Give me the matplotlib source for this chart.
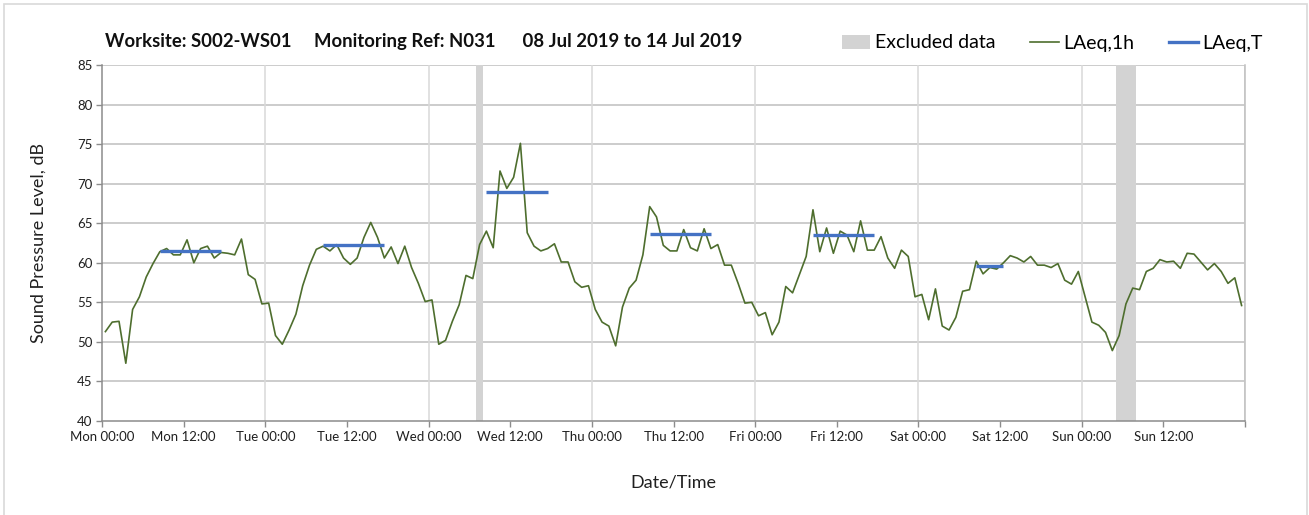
#!/usr/bin/env python3
"""
Hourly noise levels for one week at worksite S002-WS01 (monitoring ref N031).
"""

import matplotlib
matplotlib.use('Agg')
import matplotlib.pyplot as plt
from matplotlib.patches import Rectangle, Patch
from matplotlib.lines import Line2D

# hourly LAeq,1h values, Mon 00:00 -> Sun 23:00 (168 hours)
laeq_1h = [
    # Mon
    51.3, 52.5, 52.6, 47.3, 54.1, 55.7, 58.2, 59.9, 61.4, 61.8, 61.0, 61.0,
    62.9, 60.0, 61.8, 62.1, 60.6, 61.3, 61.2, 61.0, 63.0, 58.5, 57.9, 54.8,
    # Tue
    54.9, 50.8, 49.7, 51.5, 53.5, 57.1, 59.7, 61.7, 62.1, 61.5, 62.3, 60.6,
    59.8, 60.6, 63.2, 65.1, 63.2, 60.6, 62.0, 59.9, 62.1, 59.4, 57.4, 55.1,
    # Wed
    55.3, 49.7, 50.2, 52.6, 54.7, 58.4, 58.0, 62.3, 64.0, 61.9, 71.6, 69.4,
    70.8, 75.1, 63.8, 62.1, 61.5, 61.8, 62.4, 60.1, 60.1, 57.6, 56.9, 57.1,
    # Thu
    54.1, 52.5, 52.0, 49.5, 54.4, 56.8, 57.8, 61.0, 67.1, 65.8, 62.2, 61.5,
    61.5, 64.2, 61.9, 61.5, 64.3, 61.8, 62.3, 59.7, 59.7, 57.4, 54.9, 55.0,
    # Fri
    53.3, 53.7, 50.9, 52.5, 57.0, 56.2, 58.5, 60.8, 66.7, 61.4, 64.4, 61.2,
    64.0, 63.5, 61.4, 65.3, 61.6, 61.6, 63.3, 60.6, 59.3, 61.6, 60.8, 55.7,
    # Sat
    56.0, 52.8, 56.7, 52.0, 51.5, 53.1, 56.4, 56.6, 60.2, 58.6, 59.4, 59.2,
    60.0, 60.9, 60.6, 60.1, 60.8, 59.7, 59.7, 59.4, 59.9, 57.8, 57.3, 58.9,
    # Sun
    55.7, 52.5, 52.1, 51.2, 48.9, 50.8, 54.8, 56.8, 56.6, 58.9, 59.3, 60.4,
    60.1, 60.2, 59.3, 61.2, 61.1, 60.1, 59.1, 59.9, 58.9, 57.4, 58.1, 54.6,
]

# LAeq,T over each daytime assessment period (first hour, last hour, level)
period_start = [8, 32, 56, 80, 104, 128]
period_end = [17, 41, 65, 89, 113, 132]
laeq_t = [61.45, 62.2, 69.0, 63.6, 63.5, 59.6]

# excluded periods (start hour, end hour)
excluded_start = [55, 149]
excluded_end = [56, 152]

tick_labels = ['Mon 00:00', 'Mon 12:00', 'Tue 00:00', 'Tue 12:00',
               'Wed 00:00', 'Wed 12:00', 'Thu 00:00', 'Thu 12:00',
               'Fri 00:00', 'Fri 12:00', 'Sat 00:00', 'Sat 12:00',
               'Sun 00:00', 'Sun 12:00', '']

GREEN = '#4e6e2e'
BLUE = '#4472c4'
GREY_BAND = '#d3d3d3'

plt.rcParams['font.family'] = ['Lato', 'DejaVu Sans']

fig = plt.figure(figsize=(13.09, 5.15), dpi=100)
ax = fig.add_axes([102 / 1309, 1 - 421 / 515, (1245 - 102) / 1309, (421 - 65) / 515])

# outer chart border
fig.patches.append(Rectangle((4 / 1309, -0.01), (1307 - 4) / 1309, 1 - 4 / 515 + 0.01,
                             transform=fig.transFigure, fill=False,
                             edgecolor='#d9d9d9', linewidth=1.2))

for s, e in zip(excluded_start, excluded_end):
    ax.axvspan(s, e, color=GREY_BAND, linewidth=0, zorder=1)

hours = [h + 0.5 for h in range(len(laeq_1h))]
ax.plot(hours, laeq_1h, color=GREEN, linewidth=1.2, zorder=3)

for s, e, v in zip(period_start, period_end, laeq_t):
    ax.plot([s + 0.5, e + 0.5], [v, v], color=BLUE, linewidth=2.4,
            solid_capstyle='butt', zorder=4)

ax.set_xlim(0, 168)
ax.set_ylim(40, 85)
ax.set_yticks(range(40, 90, 5))
ax.set_xticks(range(0, 169, 12))
ax.set_xticklabels(tick_labels)

# grid: horizontal every 5 dB, vertical at each midnight
for y in range(45, 90, 5):
    ax.axhline(y, color='#bfbfbf', linewidth=1.1, zorder=0)
for x in range(24, 169, 24):
    ax.axvline(x, color='#d9d9d9', linewidth=1.1, zorder=0)

ax.spines['top'].set_visible(False)
for side in ['left', 'bottom', 'right']:
    ax.spines[side].set_color('#8c8c8c')
    ax.spines[side].set_linewidth(1.1)
ax.spines['right'].set_color('#bfbfbf')

ax.tick_params(axis='both', direction='out', length=4, width=1, color='#8c8c8c',
               labelsize=9.5, labelcolor='#202020', pad=3)

ax.set_ylabel('Sound Pressure Level, dB', fontsize=13, color='#202020', labelpad=22)
ax.set_xlabel('Date/Time', fontsize=13, color='#202020', labelpad=23)

fig.text(105 / 1309, 1 - 42 / 515, 'Worksite: S002-WS01     Monitoring Ref: N031      08 Jul 2019 to 14 Jul 2019',
         fontsize=13.3, fontweight='bold', color='#101010', va='center', ha='left')

handles = [Patch(facecolor=GREY_BAND, edgecolor='none'),
           Line2D([0], [0], color=GREEN, linewidth=1.2),
           Line2D([0], [0], color=BLUE, linewidth=2.4)]
fig.legend(handles, ['Excluded data', 'LAeq,1h', 'LAeq,T'],
           loc='center left', bbox_to_anchor=(834 / 1309, 1 - 43 / 515),
           ncol=3, frameon=False, fontsize=14, handlelength=1.45,
           handletextpad=0.25, columnspacing=1.8, borderaxespad=0)

fig.savefig('out.png', dpi=100)
plt.close(fig)
